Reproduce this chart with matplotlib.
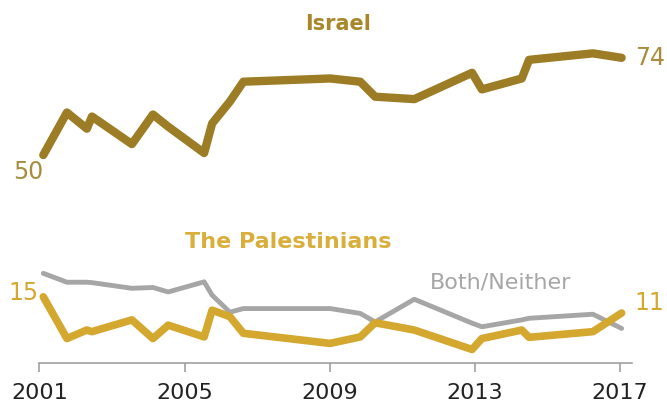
import matplotlib
matplotlib.use("Agg")
import matplotlib.pyplot as plt

# survey dates (fractional years) shared by all three series
years = [2001.11, 2001.76, 2002.31, 2002.45, 2003.55, 2004.13, 2004.55, 2005.54,
         2005.76, 2006.25, 2006.62, 2009.01, 2009.84, 2010.25, 2011.33, 2012.92,
         2013.19, 2014.29, 2014.49, 2016.25, 2017.04]

israel = [50, 60.5, 56.5, 59.5, 52.7, 60, 57, 50.5, 57.8, 63.2, 68.1, 68.9,
          68.1, 64.4, 63.8, 70.3, 66.2, 68.9, 73.5, 75.1, 74]
palestinians = [15, 4.7, 6.8, 6.4, 9.3, 4.7, 8.0, 5.1, 11.7, 10.1, 6.0, 3.5,
                5.1, 8.6, 6.8, 2.0, 4.7, 6.8, 5.0, 6.4, 11]
both_neither = [20.8, 18.6, 18.6, 18.5, 17.1, 17.3, 16.2, 18.7, 15.4, 11.2, 12.1,
                12.1, 10.9, 8.8, 14.4, 8.5, 7.6, 9.3, 9.7, 10.7, 7.2]

tick_years = [2001, 2005, 2009, 2013, 2017]

c_isr = "#9c7c24"
c_pal = "#d4a72f"
c_both = "#a6a6a6"

fig = plt.figure(figsize=(6.67, 4.07), dpi=100)
ax = fig.add_axes([0, 0, 1, 1])

ax.plot(years, both_neither, color=c_both, lw=3.5, solid_joinstyle="round",
        solid_capstyle="round", zorder=2)
ax.plot(years, palestinians, color=c_pal, lw=5.5, solid_joinstyle="round",
        solid_capstyle="round", zorder=3)
ax.plot(years, israel, color=c_isr, lw=6, solid_joinstyle="round",
        solid_capstyle="round", zorder=3)

ax.set_xlim(1999.917, 2018.29)
ax.set_ylim(-12.2, 88.27)

for s in ["left", "right", "top"]:
    ax.spines[s].set_visible(False)
ax.spines["bottom"].set_position(("data", -1.3))
ax.spines["bottom"].set_bounds(2001, 2017.33)
ax.spines["bottom"].set_color("#999999")
ax.spines["bottom"].set_linewidth(1.1)

ax.set_yticks([])
ax.set_xticks(tick_years)
ax.set_xticklabels([str(y) for y in tick_years])
ax.tick_params(axis="x", length=6.5, width=1.1, color="#999999", pad=8,
               labelsize=16, labelcolor="#222222")

# series names
ax.text(2009.23, 82.3, "Israel", color="#a8862a", fontsize=15, fontweight="bold",
        ha="center", va="center")
ax.text(2007.85, 28.6, "The Palestinians", color="#d9ae3a", fontsize=16,
        fontweight="bold", ha="center", va="center")
ax.text(2011.76, 18.6, "Both/Neither", color=c_both, fontsize=16,
        ha="left", va="center")

# end values
ax.annotate(f"{israel[0]:.0f}", (years[0], israel[0]), xytext=(-11, -12),
            textcoords="offset points", ha="center", va="center",
            color="#a88b3c", fontsize=17)
ax.annotate(f"{israel[-1]:.0f}", (years[-1], israel[-1]), xytext=(10, 0),
            textcoords="offset points", ha="left", va="center",
            color="#a88b3c", fontsize=17)
ax.annotate(f"{palestinians[0]:.0f}", (years[0], palestinians[0]), xytext=(-14, 3),
            textcoords="offset points", ha="center", va="center",
            color=c_pal, fontsize=17)
ax.annotate(f"{palestinians[-1]:.0f}", (years[-1], palestinians[-1]), xytext=(9, 7),
            textcoords="offset points", ha="left", va="center",
            color=c_pal, fontsize=17)

fig.savefig("out.png", dpi=100)
